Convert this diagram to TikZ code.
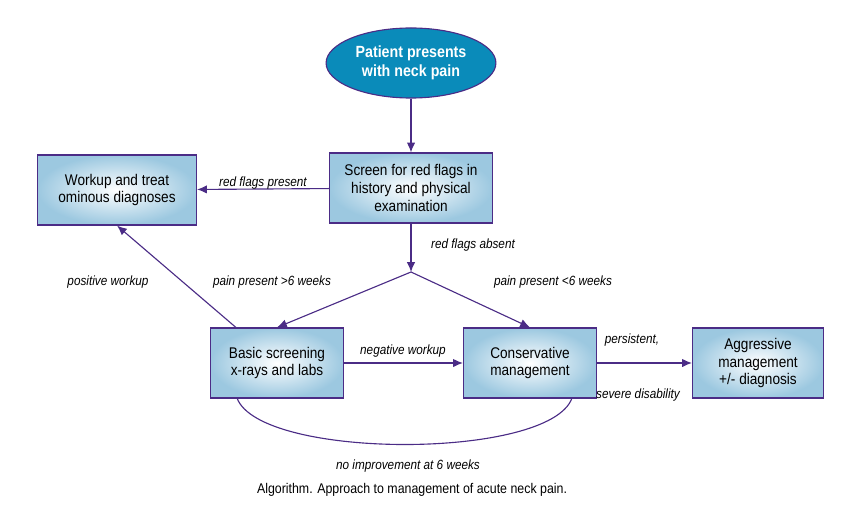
\documentclass[tikz,border=0pt]{standalone}
\usepackage{fontspec}
\setmainfont[FakeStretch=0.88]{Liberation Sans}
\usetikzlibrary{shapes.geometric,positioning,arrows.meta}
\definecolor{flowline}{HTML}{4B2C86}
\definecolor{boxblue}{HTML}{9CC8E0}
\definecolor{ovalblue}{HTML}{0A8BBA}
\tikzset{
  stepbox/.style={draw=flowline, thick, inner color=white, outer color=boxblue,
    minimum width=3.325cm, minimum height=1.75cm, align=center, font=\fontsize{11}{12.5}\selectfont},
  flow/.style={draw=flowline, thick, -{Latex[length=7pt,width=6pt]}},
  lbl/.style={font=\fontsize{9.5}{11}\selectfont\itshape}
}
\begin{document}
\begin{tikzpicture}[x=0.025cm,y=-0.025cm]
  \useasboundingbox (0,0) rectangle (852,525);

  % start
  \node[ellipse, draw=flowline, thick, fill=ovalblue, text=white, minimum width=4cm, minimum height=1.75cm,
    align=center, font=\fontsize{11.5}{13.5}\selectfont\bfseries] (start) at (411,63) {Patient presents\\with neck pain};

  % boxes
  \node[stepbox, minimum width=4.075cm] (screen) at (411,188) {Screen for red flags in\\history and physical\\examination};
  \node[stepbox, minimum width=3.975cm] (workup) at (117,190) {Workup and treat\\ominous diagnoses};
  \node[stepbox] (basic) at (277,363) {Basic screening\\x-rays and labs};
  \node[stepbox] (cons) at (530,363) {Conservative\\management};
  \node[stepbox, minimum width=3.275cm] (aggr) at (758,363) {Aggressive\\management\\+/- diagnosis};
  \coordinate (split) at (411,272);

  % connectors
  \draw[flow] (start) -- (screen);
  \draw[flow] (screen) -- (workup);
  \draw[flow] (screen) -- (split);
  \draw[flow] (split) -- (basic.north);
  \draw[flow] (split) -- (cons.north);
  \draw[flow] (basic.north west) ++(26,0) -- (workup.south);
  \draw[flow] (basic) -- (cons);
  \draw[flow] (cons) -- (aggr);
  \draw[draw=flowline, thick] (237,398) .. controls (260,460) and (550,460) .. (572,398);

  % labels
  \node[lbl] (l1) at (263,183) {red flags present};
  \node[lbl] (l2) at (473,245) {red flags absent};
  \node[lbl] (l3) at (108,282) {positive workup};
  \node[lbl] (l4) at (272,282) {pain present >6 weeks};
  \node[lbl] (l5) at (553,282) {pain present <6 weeks};
  \node[lbl] (l6) at (403,351) {negative workup};
  \node[lbl] (l7) at (632,340) {persistent,};
  \node[lbl] (l8) at (638,395) {severe disability};
  \node[lbl] (l9) at (408,466) {no improvement at 6 weeks};
  \node[font=\fontsize{10}{11}\selectfont] (cap) at (412,490) {Algorithm. Approach to management of acute neck pain.};
\end{tikzpicture}
\end{document}
